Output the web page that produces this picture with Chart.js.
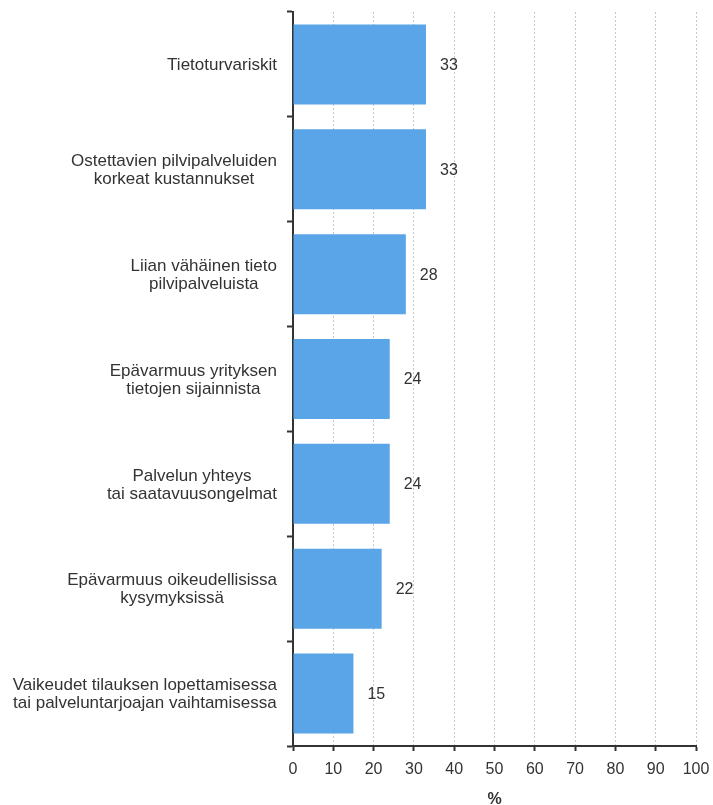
<!DOCTYPE html>
<html>
<head>
<meta charset="utf-8">
<script src="https://cdn.jsdelivr.net/npm/chart.js@4"></script>
<style>
  html, body { margin: 0; padding: 0; background: #fff; }
  #wrap { width: 713px; height: 805px; }
</style>
</head>
<body>
<div id="wrap"><canvas id="c" width="713" height="805"></canvas></div>
<script>
const categories = [
  "Tietoturvariskit",
  ["Ostettavien pilvipalveluiden", "korkeat kustannukset"],
  ["Liian vähäinen tieto", "pilvipalveluista"],
  ["Epävarmuus yrityksen", "tietojen sijainnista"],
  ["Palvelun yhteys", "tai saatavuusongelmat"],
  ["Epävarmuus oikeudellisissa", "kysymyksissä"],
  ["Vaikeudet tilauksen lopettamisessa", "tai palveluntarjoajan vaihtamisessa"]
];
const values = [33, 33, 28, 24, 24, 22, 15];
const xTicks = [0, 10, 20, 30, 40, 50, 60, 70, 80, 90, 100];
const axisTitle = "%";

const FONT = "'Liberation Sans', Arial, sans-serif";
const TEXT = '#333333';

const valueLabels = {
  id: 'valueLabels',
  afterDatasetsDraw(chart) {
    const ctx = chart.ctx;
    const meta = chart.getDatasetMeta(0);
    ctx.save();
    ctx.font = '16px ' + FONT;
    ctx.fillStyle = TEXT;
    ctx.textAlign = 'left';
    ctx.textBaseline = 'middle';
    meta.data.forEach((bar, i) => {
      ctx.fillText(String(values[i]), bar.x + 14, bar.y + 1);
    });
    ctx.restore();
  }
};

// Category labels: block right-aligned to the axis, lines centred within the block
const categoryLabels = {
  id: 'categoryLabels',
  afterDraw(chart) {
    const ctx = chart.ctx;
    const yScale = chart.scales.y;
    const rightEdge = yScale.right - 6 - 10;
    const lineH = 18;
    ctx.save();
    ctx.font = '17px ' + FONT;
    ctx.fillStyle = TEXT;
    ctx.textAlign = 'center';
    ctx.textBaseline = 'middle';
    categories.forEach((lab, i) => {
      const lines = Array.isArray(lab) ? lab : [lab];
      const w = Math.max(...lines.map(l => ctx.measureText(l).width));
      const cx = rightEdge - w / 2;
      const cy = yScale.getPixelForValue(i) + 1;
      const y0 = cy - (lines.length - 1) * lineH / 2;
      lines.forEach((l, k) => ctx.fillText(l, cx, y0 + k * lineH));
    });
    ctx.restore();
  }
};

new Chart(document.getElementById('c'), {
  type: 'bar',
  data: {
    labels: categories,
    datasets: [{
      data: values,
      backgroundColor: '#5AA5E8',
      borderWidth: 0,
      barPercentage: 0.763,
      categoryPercentage: 1.0
    }]
  },
  options: {
    indexAxis: 'y',
    responsive: false,
    animation: false,
    devicePixelRatio: 1,
    layout: { padding: { left: 0, right: 17, top: 12, bottom: 0 } },
    plugins: { legend: { display: false }, tooltip: { enabled: false } },
    scales: {
      x: {
        min: 0, max: 100,
        afterBuildTicks(scale) { scale.ticks = xTicks.map(v => ({ value: v })); },
        afterFit(scale) {
          scale.height = 59;
          scale.paddingLeft = 0; scale.paddingRight = 0;
        },
        ticks: {
          font: { size: 16, family: FONT },
          color: TEXT,
          padding: 9,
          maxRotation: 0
        },
        grid: {
          color: '#c8c8c8',
          lineWidth: 1,
          tickColor: '#333333',
          tickWidth: 2,
          tickLength: 5,
          tickBorderDash: []
        },
        border: { color: '#333333', width: 2, dash: [2, 2] },
        title: {
          display: true,
          text: axisTitle,
          font: { size: 16, family: FONT, weight: 'bold', lineHeight: 0.7 },
          color: TEXT,
          padding: { top: 0, bottom: 0 }
        }
      },
      y: {
        afterFit(scale) {
          scale.width = 293;
          scale.paddingTop = 0; scale.paddingBottom = 0;
        },
        ticks: {
          display: false
        },
        grid: {
          offset: true,
          drawOnChartArea: false,
          tickLength: 6,
          tickColor: '#333333',
          tickWidth: 2,
          tickBorderDash: []
        },
        border: { color: '#333333', width: 2 }
      }
    }
  },
  plugins: [valueLabels, categoryLabels]
});
</script>
</body>
</html>
